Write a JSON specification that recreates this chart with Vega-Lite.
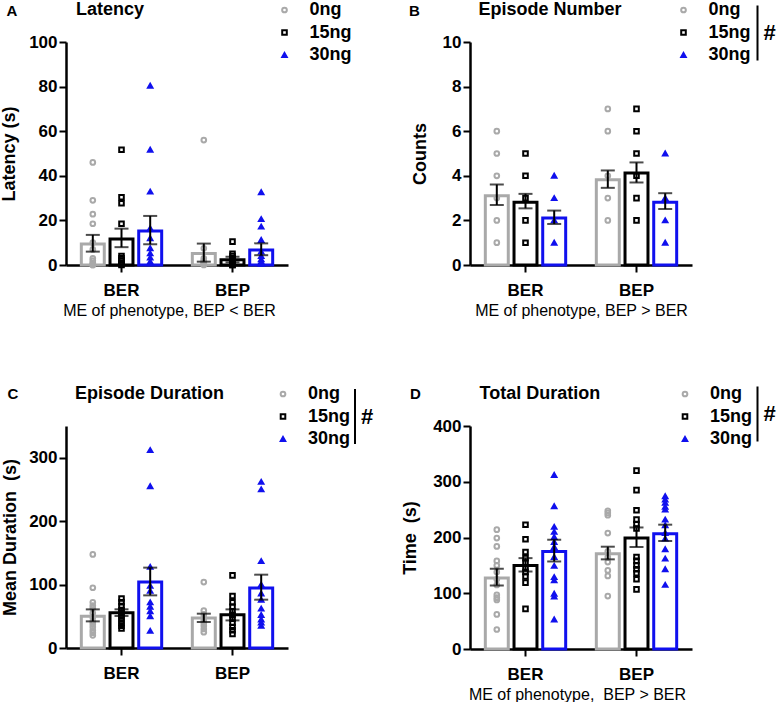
{
  "$schema": "https://vega.github.io/schema/vega-lite/v6.json",
  "background": "white",
  "padding": {"top": 1, "left": 0, "right": 0, "bottom": 0},
  "datasets": {
    "points": [
      {"panel":"A","phenotype":"BER","dose":"0ng","value":46},{"panel":"A","phenotype":"BER","dose":"0ng","value":29},{"panel":"A","phenotype":"BER","dose":"0ng","value":22.8},{"panel":"A","phenotype":"BER","dose":"0ng","value":18.5},{"panel":"A","phenotype":"BER","dose":"0ng","value":10},{"panel":"A","phenotype":"BER","dose":"0ng","value":7},{"panel":"A","phenotype":"BER","dose":"0ng","value":3},{"panel":"A","phenotype":"BER","dose":"0ng","value":2},{"panel":"A","phenotype":"BER","dose":"0ng","value":1},{"panel":"A","phenotype":"BER","dose":"0ng","value":0.5},{"panel":"A","phenotype":"BER","dose":"0ng","value":0},{"panel":"A","phenotype":"BER","dose":"0ng","value":0},
      {"panel":"A","phenotype":"BER","dose":"15ng","value":51.7},{"panel":"A","phenotype":"BER","dose":"15ng","value":30.4},{"panel":"A","phenotype":"BER","dose":"15ng","value":27.7},{"panel":"A","phenotype":"BER","dose":"15ng","value":18.5},{"panel":"A","phenotype":"BER","dose":"15ng","value":4},{"panel":"A","phenotype":"BER","dose":"15ng","value":3},{"panel":"A","phenotype":"BER","dose":"15ng","value":2},{"panel":"A","phenotype":"BER","dose":"15ng","value":1},{"panel":"A","phenotype":"BER","dose":"15ng","value":0.5},{"panel":"A","phenotype":"BER","dose":"15ng","value":0},
      {"panel":"A","phenotype":"BER","dose":"30ng","value":80.4},{"panel":"A","phenotype":"BER","dose":"30ng","value":51.7},{"panel":"A","phenotype":"BER","dose":"30ng","value":32.9},{"panel":"A","phenotype":"BER","dose":"30ng","value":16.4},{"panel":"A","phenotype":"BER","dose":"30ng","value":12},{"panel":"A","phenotype":"BER","dose":"30ng","value":7.5},{"panel":"A","phenotype":"BER","dose":"30ng","value":5.2},{"panel":"A","phenotype":"BER","dose":"30ng","value":3.3},{"panel":"A","phenotype":"BER","dose":"30ng","value":1.5},{"panel":"A","phenotype":"BER","dose":"30ng","value":0.7},
      {"panel":"A","phenotype":"BEP","dose":"0ng","value":56},{"panel":"A","phenotype":"BEP","dose":"0ng","value":7.5},{"panel":"A","phenotype":"BEP","dose":"0ng","value":3},{"panel":"A","phenotype":"BEP","dose":"0ng","value":2},{"panel":"A","phenotype":"BEP","dose":"0ng","value":1.5},{"panel":"A","phenotype":"BEP","dose":"0ng","value":1},{"panel":"A","phenotype":"BEP","dose":"0ng","value":0.5},{"panel":"A","phenotype":"BEP","dose":"0ng","value":0},
      {"panel":"A","phenotype":"BEP","dose":"15ng","value":10.5},{"panel":"A","phenotype":"BEP","dose":"15ng","value":5},{"panel":"A","phenotype":"BEP","dose":"15ng","value":4},{"panel":"A","phenotype":"BEP","dose":"15ng","value":3},{"panel":"A","phenotype":"BEP","dose":"15ng","value":2},{"panel":"A","phenotype":"BEP","dose":"15ng","value":1.5},{"panel":"A","phenotype":"BEP","dose":"15ng","value":1},{"panel":"A","phenotype":"BEP","dose":"15ng","value":0.5},{"panel":"A","phenotype":"BEP","dose":"15ng","value":0},{"panel":"A","phenotype":"BEP","dose":"15ng","value":0},
      {"panel":"A","phenotype":"BEP","dose":"30ng","value":32.6},{"panel":"A","phenotype":"BEP","dose":"30ng","value":20.6},{"panel":"A","phenotype":"BEP","dose":"30ng","value":17.2},{"panel":"A","phenotype":"BEP","dose":"30ng","value":11.2},{"panel":"A","phenotype":"BEP","dose":"30ng","value":6},{"panel":"A","phenotype":"BEP","dose":"30ng","value":4},{"panel":"A","phenotype":"BEP","dose":"30ng","value":2.5},{"panel":"A","phenotype":"BEP","dose":"30ng","value":1.5},{"panel":"A","phenotype":"BEP","dose":"30ng","value":0.8},{"panel":"A","phenotype":"BEP","dose":"30ng","value":0.5},
      {"panel":"B","phenotype":"BER","dose":"0ng","value":6},{"panel":"B","phenotype":"BER","dose":"0ng","value":5},{"panel":"B","phenotype":"BER","dose":"0ng","value":4},{"panel":"B","phenotype":"BER","dose":"0ng","value":3},{"panel":"B","phenotype":"BER","dose":"0ng","value":2},{"panel":"B","phenotype":"BER","dose":"0ng","value":1},
      {"panel":"B","phenotype":"BER","dose":"15ng","value":5},{"panel":"B","phenotype":"BER","dose":"15ng","value":4},{"panel":"B","phenotype":"BER","dose":"15ng","value":3},{"panel":"B","phenotype":"BER","dose":"15ng","value":2},{"panel":"B","phenotype":"BER","dose":"15ng","value":1},
      {"panel":"B","phenotype":"BER","dose":"30ng","value":4},{"panel":"B","phenotype":"BER","dose":"30ng","value":3},{"panel":"B","phenotype":"BER","dose":"30ng","value":2},{"panel":"B","phenotype":"BER","dose":"30ng","value":1},
      {"panel":"B","phenotype":"BEP","dose":"0ng","value":7},{"panel":"B","phenotype":"BEP","dose":"0ng","value":6},{"panel":"B","phenotype":"BEP","dose":"0ng","value":4},{"panel":"B","phenotype":"BEP","dose":"0ng","value":3},{"panel":"B","phenotype":"BEP","dose":"0ng","value":2},
      {"panel":"B","phenotype":"BEP","dose":"15ng","value":7},{"panel":"B","phenotype":"BEP","dose":"15ng","value":6},{"panel":"B","phenotype":"BEP","dose":"15ng","value":5},{"panel":"B","phenotype":"BEP","dose":"15ng","value":4},{"panel":"B","phenotype":"BEP","dose":"15ng","value":3},{"panel":"B","phenotype":"BEP","dose":"15ng","value":2},
      {"panel":"B","phenotype":"BEP","dose":"30ng","value":5},{"panel":"B","phenotype":"BEP","dose":"30ng","value":3},{"panel":"B","phenotype":"BEP","dose":"30ng","value":2},{"panel":"B","phenotype":"BEP","dose":"30ng","value":1},
      {"panel":"C","phenotype":"BER","dose":"0ng","value":147.6},{"panel":"C","phenotype":"BER","dose":"0ng","value":95},{"panel":"C","phenotype":"BER","dose":"0ng","value":72},{"panel":"C","phenotype":"BER","dose":"0ng","value":67},{"panel":"C","phenotype":"BER","dose":"0ng","value":63},{"panel":"C","phenotype":"BER","dose":"0ng","value":55},{"panel":"C","phenotype":"BER","dose":"0ng","value":48},{"panel":"C","phenotype":"BER","dose":"0ng","value":42},{"panel":"C","phenotype":"BER","dose":"0ng","value":38},{"panel":"C","phenotype":"BER","dose":"0ng","value":33},{"panel":"C","phenotype":"BER","dose":"0ng","value":28},{"panel":"C","phenotype":"BER","dose":"0ng","value":24},{"panel":"C","phenotype":"BER","dose":"0ng","value":20},
      {"panel":"C","phenotype":"BER","dose":"15ng","value":78},{"panel":"C","phenotype":"BER","dose":"15ng","value":72},{"panel":"C","phenotype":"BER","dose":"15ng","value":66},{"panel":"C","phenotype":"BER","dose":"15ng","value":60},{"panel":"C","phenotype":"BER","dose":"15ng","value":55},{"panel":"C","phenotype":"BER","dose":"15ng","value":50},{"panel":"C","phenotype":"BER","dose":"15ng","value":45},{"panel":"C","phenotype":"BER","dose":"15ng","value":40},{"panel":"C","phenotype":"BER","dose":"15ng","value":35},{"panel":"C","phenotype":"BER","dose":"15ng","value":31},
      {"panel":"C","phenotype":"BER","dose":"30ng","value":312},{"panel":"C","phenotype":"BER","dose":"30ng","value":255},{"panel":"C","phenotype":"BER","dose":"30ng","value":128},{"panel":"C","phenotype":"BER","dose":"30ng","value":98},{"panel":"C","phenotype":"BER","dose":"30ng","value":90},{"panel":"C","phenotype":"BER","dose":"30ng","value":72},{"panel":"C","phenotype":"BER","dose":"30ng","value":65},{"panel":"C","phenotype":"BER","dose":"30ng","value":58},{"panel":"C","phenotype":"BER","dose":"30ng","value":50},{"panel":"C","phenotype":"BER","dose":"30ng","value":27},
      {"panel":"C","phenotype":"BEP","dose":"0ng","value":104},{"panel":"C","phenotype":"BEP","dose":"0ng","value":59},{"panel":"C","phenotype":"BEP","dose":"0ng","value":53},{"panel":"C","phenotype":"BEP","dose":"0ng","value":48},{"panel":"C","phenotype":"BEP","dose":"0ng","value":44},{"panel":"C","phenotype":"BEP","dose":"0ng","value":40},{"panel":"C","phenotype":"BEP","dose":"0ng","value":35},{"panel":"C","phenotype":"BEP","dose":"0ng","value":30},{"panel":"C","phenotype":"BEP","dose":"0ng","value":25},
      {"panel":"C","phenotype":"BEP","dose":"15ng","value":114.5},{"panel":"C","phenotype":"BEP","dose":"15ng","value":82},{"panel":"C","phenotype":"BEP","dose":"15ng","value":72},{"panel":"C","phenotype":"BEP","dose":"15ng","value":65},{"panel":"C","phenotype":"BEP","dose":"15ng","value":58},{"panel":"C","phenotype":"BEP","dose":"15ng","value":52},{"panel":"C","phenotype":"BEP","dose":"15ng","value":46},{"panel":"C","phenotype":"BEP","dose":"15ng","value":40},{"panel":"C","phenotype":"BEP","dose":"15ng","value":33},{"panel":"C","phenotype":"BEP","dose":"15ng","value":28},{"panel":"C","phenotype":"BEP","dose":"15ng","value":22},
      {"panel":"C","phenotype":"BEP","dose":"30ng","value":262},{"panel":"C","phenotype":"BEP","dose":"30ng","value":250},{"panel":"C","phenotype":"BEP","dose":"30ng","value":137},{"panel":"C","phenotype":"BEP","dose":"30ng","value":100},{"panel":"C","phenotype":"BEP","dose":"30ng","value":86},{"panel":"C","phenotype":"BEP","dose":"30ng","value":76},{"panel":"C","phenotype":"BEP","dose":"30ng","value":62},{"panel":"C","phenotype":"BEP","dose":"30ng","value":52},{"panel":"C","phenotype":"BEP","dose":"30ng","value":45},{"panel":"C","phenotype":"BEP","dose":"30ng","value":40},{"panel":"C","phenotype":"BEP","dose":"30ng","value":35},
      {"panel":"D","phenotype":"BER","dose":"0ng","value":214},{"panel":"D","phenotype":"BER","dose":"0ng","value":199},{"panel":"D","phenotype":"BER","dose":"0ng","value":184},{"panel":"D","phenotype":"BER","dose":"0ng","value":158},{"panel":"D","phenotype":"BER","dose":"0ng","value":150},{"panel":"D","phenotype":"BER","dose":"0ng","value":138},{"panel":"D","phenotype":"BER","dose":"0ng","value":125},{"panel":"D","phenotype":"BER","dose":"0ng","value":115},{"panel":"D","phenotype":"BER","dose":"0ng","value":97},{"panel":"D","phenotype":"BER","dose":"0ng","value":92},{"panel":"D","phenotype":"BER","dose":"0ng","value":88},{"panel":"D","phenotype":"BER","dose":"0ng","value":62},{"panel":"D","phenotype":"BER","dose":"0ng","value":35},
      {"panel":"D","phenotype":"BER","dose":"15ng","value":223},{"panel":"D","phenotype":"BER","dose":"15ng","value":197},{"panel":"D","phenotype":"BER","dose":"15ng","value":174},{"panel":"D","phenotype":"BER","dose":"15ng","value":163},{"panel":"D","phenotype":"BER","dose":"15ng","value":155},{"panel":"D","phenotype":"BER","dose":"15ng","value":145},{"panel":"D","phenotype":"BER","dose":"15ng","value":138},{"panel":"D","phenotype":"BER","dose":"15ng","value":130},{"panel":"D","phenotype":"BER","dose":"15ng","value":119},{"panel":"D","phenotype":"BER","dose":"15ng","value":72},
      {"panel":"D","phenotype":"BER","dose":"30ng","value":312},{"panel":"D","phenotype":"BER","dose":"30ng","value":256},{"panel":"D","phenotype":"BER","dose":"30ng","value":219},{"panel":"D","phenotype":"BER","dose":"30ng","value":210},{"panel":"D","phenotype":"BER","dose":"30ng","value":201},{"panel":"D","phenotype":"BER","dose":"30ng","value":192},{"panel":"D","phenotype":"BER","dose":"30ng","value":183},{"panel":"D","phenotype":"BER","dose":"30ng","value":165},{"panel":"D","phenotype":"BER","dose":"30ng","value":149},{"panel":"D","phenotype":"BER","dose":"30ng","value":129},{"panel":"D","phenotype":"BER","dose":"30ng","value":123},{"panel":"D","phenotype":"BER","dose":"30ng","value":99},{"panel":"D","phenotype":"BER","dose":"30ng","value":94},{"panel":"D","phenotype":"BER","dose":"30ng","value":53},
      {"panel":"D","phenotype":"BEP","dose":"0ng","value":248},{"panel":"D","phenotype":"BEP","dose":"0ng","value":244},{"panel":"D","phenotype":"BEP","dose":"0ng","value":240},{"panel":"D","phenotype":"BEP","dose":"0ng","value":208},{"panel":"D","phenotype":"BEP","dose":"0ng","value":175},{"panel":"D","phenotype":"BEP","dose":"0ng","value":165},{"panel":"D","phenotype":"BEP","dose":"0ng","value":156},{"panel":"D","phenotype":"BEP","dose":"0ng","value":141},{"panel":"D","phenotype":"BEP","dose":"0ng","value":131},{"panel":"D","phenotype":"BEP","dose":"0ng","value":95},
      {"panel":"D","phenotype":"BEP","dose":"15ng","value":320},{"panel":"D","phenotype":"BEP","dose":"15ng","value":285},{"panel":"D","phenotype":"BEP","dose":"15ng","value":249},{"panel":"D","phenotype":"BEP","dose":"15ng","value":232},{"panel":"D","phenotype":"BEP","dose":"15ng","value":224},{"panel":"D","phenotype":"BEP","dose":"15ng","value":216},{"panel":"D","phenotype":"BEP","dose":"15ng","value":165},{"panel":"D","phenotype":"BEP","dose":"15ng","value":158},{"panel":"D","phenotype":"BEP","dose":"15ng","value":150},{"panel":"D","phenotype":"BEP","dose":"15ng","value":143},{"panel":"D","phenotype":"BEP","dose":"15ng","value":136},{"panel":"D","phenotype":"BEP","dose":"15ng","value":125},{"panel":"D","phenotype":"BEP","dose":"15ng","value":107},
      {"panel":"D","phenotype":"BEP","dose":"30ng","value":274},{"panel":"D","phenotype":"BEP","dose":"30ng","value":268},{"panel":"D","phenotype":"BEP","dose":"30ng","value":262},{"panel":"D","phenotype":"BEP","dose":"30ng","value":255},{"panel":"D","phenotype":"BEP","dose":"30ng","value":250},{"panel":"D","phenotype":"BEP","dose":"30ng","value":232},{"panel":"D","phenotype":"BEP","dose":"30ng","value":222},{"panel":"D","phenotype":"BEP","dose":"30ng","value":208},{"panel":"D","phenotype":"BEP","dose":"30ng","value":198},{"panel":"D","phenotype":"BEP","dose":"30ng","value":179},{"panel":"D","phenotype":"BEP","dose":"30ng","value":162},{"panel":"D","phenotype":"BEP","dose":"30ng","value":143},{"panel":"D","phenotype":"BEP","dose":"30ng","value":115}
    ],
    "summary": [
      {"panel":"A","phenotype":"BER","dose":"0ng","mean":9.4,"lo":6.0,"hi":13.5},
      {"panel":"A","phenotype":"BER","dose":"15ng","mean":11.7,"lo":8.0,"hi":16.3},
      {"panel":"A","phenotype":"BER","dose":"30ng","mean":15.3,"lo":9.3,"hi":22.0},
      {"panel":"A","phenotype":"BEP","dose":"0ng","mean":5.2,"lo":1.5,"hi":9.6},
      {"panel":"A","phenotype":"BEP","dose":"15ng","mean":2.4,"lo":1.2,"hi":3.7},
      {"panel":"A","phenotype":"BEP","dose":"30ng","mean":6.7,"lo":4.4,"hi":9.7},
      {"panel":"B","phenotype":"BER","dose":"0ng","mean":3.11,"lo":2.69,"hi":3.61,"sig":"#"},
      {"panel":"B","phenotype":"BER","dose":"15ng","mean":2.81,"lo":2.54,"hi":3.19,"sig":"#"},
      {"panel":"B","phenotype":"BER","dose":"30ng","mean":2.11,"lo":1.84,"hi":2.44,"sig":"#"},
      {"panel":"B","phenotype":"BEP","dose":"0ng","mean":3.82,"lo":3.46,"hi":4.24,"sig":"#"},
      {"panel":"B","phenotype":"BEP","dose":"15ng","mean":4.12,"lo":3.7,"hi":4.6,"sig":"#"},
      {"panel":"B","phenotype":"BEP","dose":"30ng","mean":2.81,"lo":2.51,"hi":3.22,"sig":"#"},
      {"panel":"C","phenotype":"BER","dose":"0ng","mean":49.9,"lo":42,"hi":60.9,"sig":"#"},
      {"panel":"C","phenotype":"BER","dose":"15ng","mean":55.7,"lo":50.5,"hi":61,"sig":"#"},
      {"panel":"C","phenotype":"BER","dose":"30ng","mean":104,"lo":83,"hi":126.7,"sig":"#"},
      {"panel":"C","phenotype":"BEP","dose":"0ng","mean":47.3,"lo":41,"hi":54.1,"sig":"#"},
      {"panel":"C","phenotype":"BEP","dose":"15ng","mean":52.5,"lo":43.5,"hi":60.9,"sig":"#"},
      {"panel":"C","phenotype":"BEP","dose":"30ng","mean":94.6,"lo":76.2,"hi":115.6,"sig":"#"},
      {"panel":"D","phenotype":"BER","dose":"0ng","mean":127.2,"lo":114,"hi":144,"sig":"#"},
      {"panel":"D","phenotype":"BER","dose":"15ng","mean":150,"lo":139,"hi":163,"sig":"#"},
      {"panel":"D","phenotype":"BER","dose":"30ng","mean":175,"lo":157,"hi":196,"sig":"#"},
      {"panel":"D","phenotype":"BEP","dose":"0ng","mean":171,"lo":160.8,"hi":183.5,"sig":"#"},
      {"panel":"D","phenotype":"BEP","dose":"15ng","mean":199,"lo":183,"hi":218,"sig":"#"},
      {"panel":"D","phenotype":"BEP","dose":"30ng","mean":206.8,"lo":193.7,"hi":223,"sig":"#"}
    ]
  },
  "columns": 2,
  "spacing": {"row": 161, "column": 182},
  "bounds": "flush",
  "resolve": {
    "scale": {"color": "independent", "shape": "independent", "stroke": "independent", "fill": "independent", "size": "independent", "strokeDash": "independent"},
    "legend": {"color": "independent", "shape": "independent", "stroke": "independent", "fill": "independent", "size": "independent", "strokeDash": "independent"}
  },
  "concat": [
    {
      "width": 222, "height": 223,
      "title": {"text": "Latency", "dx": 10},
      "resolve": {"axis": {"x": "independent"}},
      "encoding": {
        "x": {"field": "phenotype", "type": "nominal", "sort": ["BER","BEP"], "scale": {"paddingInner": 0, "paddingOuter": 0}, "axis": null},
        "xOffset": {"field": "dose", "type": "nominal", "sort": ["0ng","15ng","30ng"], "scale": {"paddingInner": 0.2, "paddingOuter": 0.534}}
      },
      "layer": [
        {"data": {"name": "summary"}, "transform": [{"filter": "datum.panel === 'A'"}],
         "mark": {"type": "bar", "filled": false, "strokeWidth": 3},
         "encoding": {
           "x": {"field": "phenotype", "type": "nominal", "sort": ["BER","BEP"], "scale": {"paddingInner": 0, "paddingOuter": 0}, "axis": {"title": "ME of phenotype, BEP < BER", "titleX": 103}},
           "y": {"field": "mean", "type": "quantitative", "scale": {"domain": [0, 100], "nice": false}, "axis": {"title": "Latency (s)", "values": [0,20,40,60,80,100], "titlePadding": 10}},
           "color": {"field": "dose", "type": "nominal", "scale": {"range": ["#a9a9a9","#000000","#1010ee"]}, "legend": null}
         }},
        {"data": {"name": "points"}, "transform": [{"filter": "datum.panel === 'A'"}],
         "mark": {"type": "point", "strokeWidth": 2, "opacity": 1},
         "encoding": {
           "y": {"field": "value", "type": "quantitative"},
           "shape": {"field": "dose", "type": "nominal", "scale": {"domain": ["0ng","15ng","30ng"], "range": ["circle","square","triangle-up"]}, "legend": {"orient": "none", "legendX": 209.5, "legendY": -41, "title": null, "padding": 0, "labelFontSize": 18, "labelOffset": 16, "rowPadding": 4.5, "symbolStrokeWidth": 2}},
           "stroke": {"field": "dose", "type": "nominal", "scale": {"domain": ["0ng","15ng","30ng"], "range": ["#a9a9a9","#000000","#1010ee"]}, "legend": {"orient": "none", "legendX": 209.5, "legendY": -41, "title": null, "padding": 0, "labelFontSize": 18, "labelOffset": 16, "rowPadding": 4.5, "symbolStrokeWidth": 2}},
           "fill": {"field": "dose", "type": "nominal", "scale": {"domain": ["0ng","15ng","30ng"], "range": ["transparent","transparent","#1010ee"]}, "legend": {"orient": "none", "legendX": 209.5, "legendY": -41, "title": null, "padding": 0, "labelFontSize": 18, "labelOffset": 16, "rowPadding": 4.5, "symbolStrokeWidth": 2}},
           "size": {"field": "dose", "type": "nominal", "scale": {"domain": ["0ng","15ng","30ng"], "range": [22, 20, 40]}, "legend": {"orient": "none", "legendX": 209.5, "legendY": -41, "title": null, "padding": 0, "labelFontSize": 18, "labelOffset": 16, "rowPadding": 4.5, "symbolStrokeWidth": 2}}
         }},
        {"data": {"name": "summary"}, "transform": [{"filter": "datum.panel === 'A'"}],
         "mark": {"type": "rule", "strokeWidth": 2, "color": "black"},
         "encoding": {"y": {"field": "lo", "type": "quantitative"}, "y2": {"field": "hi"}}},
        {"data": {"name": "summary"}, "transform": [{"filter": "datum.panel === 'A'"}],
         "mark": {"type": "tick", "orient": "horizontal", "size": 14, "thickness": 2, "color": "black"},
         "encoding": {"y": {"field": "lo", "type": "quantitative"}}},
        {"data": {"name": "summary"}, "transform": [{"filter": "datum.panel === 'A'"}],
         "mark": {"type": "tick", "orient": "horizontal", "size": 14, "thickness": 2, "color": "black"},
         "encoding": {
           "x": {"field": "phenotype", "type": "nominal", "sort": ["BER","BEP"], "scale": {"paddingInner": 0, "paddingOuter": 0}, "axis": {"orient": "top", "domain": false, "ticks": false, "labels": false, "grid": false, "title": "A", "titleX": -60, "titleY": -27, "titleAlign": "left", "titleAngle": 0, "titleBaseline": "alphabetic", "titleFontSize": 15, "titleFontWeight": "bold", "titleColor": "black"}},
           "y": {"field": "hi", "type": "quantitative"}}}
      ]
    },
    {
      "width": 222, "height": 223,
      "title": {"text": "Episode Number", "dx": 8.5},
      "resolve": {"axis": {"x": "independent"}},
      "encoding": {
        "x": {"field": "phenotype", "type": "nominal", "sort": ["BER","BEP"], "scale": {"paddingInner": 0, "paddingOuter": 0}, "axis": null},
        "xOffset": {"field": "dose", "type": "nominal", "sort": ["0ng","15ng","30ng"], "scale": {"paddingInner": 0.2, "paddingOuter": 0.534}}
      },
      "layer": [
        {"data": {"name": "summary"}, "transform": [{"filter": "datum.panel === 'B'"}],
         "mark": {"type": "bar", "filled": false, "strokeWidth": 3},
         "encoding": {
           "x": {"field": "phenotype", "type": "nominal", "sort": ["BER","BEP"], "scale": {"paddingInner": 0, "paddingOuter": 0}, "axis": {"title": "ME of phenotype, BEP > BER"}},
           "y": {"field": "mean", "type": "quantitative", "scale": {"domain": [0, 10], "nice": false}, "axis": {"title": "Counts", "values": [0,2,4,6,8,10], "titlePadding": 13}},
           "color": {"field": "dose", "type": "nominal", "scale": {"range": ["#a9a9a9","#000000","#1010ee"]}, "legend": null}
         }},
        {"data": {"name": "points"}, "transform": [{"filter": "datum.panel === 'B'"}],
         "mark": {"type": "point", "strokeWidth": 2, "opacity": 1},
         "encoding": {
           "y": {"field": "value", "type": "quantitative"},
           "shape": {"field": "dose", "type": "nominal", "scale": {"domain": ["0ng","15ng","30ng"], "range": ["circle","square","triangle-up"]}, "legend": {"orient": "none", "legendX": 204.5, "legendY": -41, "title": null, "padding": 0, "labelFontSize": 18, "labelOffset": 16, "rowPadding": 4.5, "symbolStrokeWidth": 2}},
           "stroke": {"field": "dose", "type": "nominal", "scale": {"domain": ["0ng","15ng","30ng"], "range": ["#a9a9a9","#000000","#1010ee"]}, "legend": {"orient": "none", "legendX": 204.5, "legendY": -41, "title": null, "padding": 0, "labelFontSize": 18, "labelOffset": 16, "rowPadding": 4.5, "symbolStrokeWidth": 2}},
           "fill": {"field": "dose", "type": "nominal", "scale": {"domain": ["0ng","15ng","30ng"], "range": ["transparent","transparent","#1010ee"]}, "legend": {"orient": "none", "legendX": 204.5, "legendY": -41, "title": null, "padding": 0, "labelFontSize": 18, "labelOffset": 16, "rowPadding": 4.5, "symbolStrokeWidth": 2}},
           "size": {"field": "dose", "type": "nominal", "scale": {"domain": ["0ng","15ng","30ng"], "range": [22, 20, 40]}, "legend": {"orient": "none", "legendX": 204.5, "legendY": -41, "title": null, "padding": 0, "labelFontSize": 18, "labelOffset": 16, "rowPadding": 4.5, "symbolStrokeWidth": 2}}
         }},
        {"data": {"name": "summary"}, "transform": [{"filter": "datum.panel === 'B'"}],
         "mark": {"type": "rule", "strokeWidth": 2, "color": "black"},
         "encoding": {"y": {"field": "lo", "type": "quantitative"}, "y2": {"field": "hi"},
           "strokeDash": {"field": "sig", "type": "nominal", "scale": {"range": [[1, 0]]}, "legend": {"orient": "none", "legendX": 276.5, "legendY": -20, "title": null, "padding": 0, "symbolType": "M0,-10L0,10", "symbolSize": 30, "symbolStrokeWidth": 2, "symbolStrokeColor": "black", "labelFontSize": 22, "labelOffset": -5}}}},
        {"data": {"name": "summary"}, "transform": [{"filter": "datum.panel === 'B'"}],
         "mark": {"type": "tick", "orient": "horizontal", "size": 14, "thickness": 2, "color": "black"},
         "encoding": {"y": {"field": "lo", "type": "quantitative"}}},
        {"data": {"name": "summary"}, "transform": [{"filter": "datum.panel === 'B'"}],
         "mark": {"type": "tick", "orient": "horizontal", "size": 14, "thickness": 2, "color": "black"},
         "encoding": {
           "x": {"field": "phenotype", "type": "nominal", "sort": ["BER","BEP"], "scale": {"paddingInner": 0, "paddingOuter": 0}, "axis": {"orient": "top", "domain": false, "ticks": false, "labels": false, "grid": false, "title": "B", "titleX": -61.5, "titleY": -27, "titleAlign": "left", "titleAngle": 0, "titleBaseline": "alphabetic", "titleFontSize": 15, "titleFontWeight": "bold", "titleColor": "black"}},
           "y": {"field": "hi", "type": "quantitative"}}}
      ]
    },
    {
      "width": 222, "height": 222,
      "title": {"text": "Episode Duration", "dx": 9},
      "resolve": {"axis": {"x": "independent"}},
      "encoding": {
        "x": {"field": "phenotype", "type": "nominal", "sort": ["BER","BEP"], "scale": {"paddingInner": 0, "paddingOuter": 0}, "axis": null},
        "xOffset": {"field": "dose", "type": "nominal", "sort": ["0ng","15ng","30ng"], "scale": {"paddingInner": 0.2, "paddingOuter": 0.534}}
      },
      "layer": [
        {"data": {"name": "summary"}, "transform": [{"filter": "datum.panel === 'C'"}],
         "mark": {"type": "bar", "filled": false, "strokeWidth": 3},
         "encoding": {
           "x": {"field": "phenotype", "type": "nominal", "sort": ["BER","BEP"], "scale": {"paddingInner": 0, "paddingOuter": 0}, "axis": {"title": null}},
           "y": {"field": "mean", "type": "quantitative", "scale": {"domain": [0, 350], "nice": false}, "axis": {"title": "Mean Duration\u00a0 (s)", "values": [0,100,200,300], "titlePadding": 9}},
           "color": {"field": "dose", "type": "nominal", "scale": {"range": ["#a9a9a9","#000000","#1010ee"]}, "legend": null}
         }},
        {"data": {"name": "points"}, "transform": [{"filter": "datum.panel === 'C'"}],
         "mark": {"type": "point", "strokeWidth": 2, "opacity": 1},
         "encoding": {
           "y": {"field": "value", "type": "quantitative"},
           "shape": {"field": "dose", "type": "nominal", "scale": {"domain": ["0ng","15ng","30ng"], "range": ["circle","square","triangle-up"]}, "legend": {"orient": "none", "legendX": 208, "legendY": -41, "title": null, "padding": 0, "labelFontSize": 18, "labelOffset": 16, "rowPadding": 4.5, "symbolStrokeWidth": 2}},
           "stroke": {"field": "dose", "type": "nominal", "scale": {"domain": ["0ng","15ng","30ng"], "range": ["#a9a9a9","#000000","#1010ee"]}, "legend": {"orient": "none", "legendX": 208, "legendY": -41, "title": null, "padding": 0, "labelFontSize": 18, "labelOffset": 16, "rowPadding": 4.5, "symbolStrokeWidth": 2}},
           "fill": {"field": "dose", "type": "nominal", "scale": {"domain": ["0ng","15ng","30ng"], "range": ["transparent","transparent","#1010ee"]}, "legend": {"orient": "none", "legendX": 208, "legendY": -41, "title": null, "padding": 0, "labelFontSize": 18, "labelOffset": 16, "rowPadding": 4.5, "symbolStrokeWidth": 2}},
           "size": {"field": "dose", "type": "nominal", "scale": {"domain": ["0ng","15ng","30ng"], "range": [22, 20, 40]}, "legend": {"orient": "none", "legendX": 208, "legendY": -41, "title": null, "padding": 0, "labelFontSize": 18, "labelOffset": 16, "rowPadding": 4.5, "symbolStrokeWidth": 2}}
         }},
        {"data": {"name": "summary"}, "transform": [{"filter": "datum.panel === 'C'"}],
         "mark": {"type": "rule", "strokeWidth": 2, "color": "black"},
         "encoding": {"y": {"field": "lo", "type": "quantitative"}, "y2": {"field": "hi"},
           "strokeDash": {"field": "sig", "type": "nominal", "scale": {"range": [[1, 0]]}, "legend": {"orient": "none", "legendX": 278, "legendY": -20.5, "title": null, "padding": 0, "symbolType": "M0,-10L0,10", "symbolSize": 30, "symbolStrokeWidth": 2, "symbolStrokeColor": "black", "labelFontSize": 22, "labelOffset": -5}}}},
        {"data": {"name": "summary"}, "transform": [{"filter": "datum.panel === 'C'"}],
         "mark": {"type": "tick", "orient": "horizontal", "size": 14, "thickness": 2, "color": "black"},
         "encoding": {"y": {"field": "lo", "type": "quantitative"}}},
        {"data": {"name": "summary"}, "transform": [{"filter": "datum.panel === 'C'"}],
         "mark": {"type": "tick", "orient": "horizontal", "size": 14, "thickness": 2, "color": "black"},
         "encoding": {
           "x": {"field": "phenotype", "type": "nominal", "sort": ["BER","BEP"], "scale": {"paddingInner": 0, "paddingOuter": 0}, "axis": {"orient": "top", "domain": false, "ticks": false, "labels": false, "grid": false, "title": "C", "titleX": -59, "titleY": -28, "titleAlign": "left", "titleAngle": 0, "titleBaseline": "alphabetic", "titleFontSize": 15, "titleFontWeight": "bold", "titleColor": "black"}},
           "y": {"field": "hi", "type": "quantitative"}}}
      ]
    },
    {
      "width": 222, "height": 223,
      "title": {"text": "Total Duration", "dx": 9.5},
      "resolve": {"axis": {"x": "independent"}},
      "encoding": {
        "x": {"field": "phenotype", "type": "nominal", "sort": ["BER","BEP"], "scale": {"paddingInner": 0, "paddingOuter": 0}, "axis": null},
        "xOffset": {"field": "dose", "type": "nominal", "sort": ["0ng","15ng","30ng"], "scale": {"paddingInner": 0.2, "paddingOuter": 0.534}}
      },
      "layer": [
        {"data": {"name": "summary"}, "transform": [{"filter": "datum.panel === 'D'"}],
         "mark": {"type": "bar", "filled": false, "strokeWidth": 3},
         "encoding": {
           "x": {"field": "phenotype", "type": "nominal", "sort": ["BER","BEP"], "scale": {"paddingInner": 0, "paddingOuter": 0}, "axis": {"title": "ME of phenotype,\u00a0 BEP > BER", "titleX": 107}},
           "y": {"field": "mean", "type": "quantitative", "scale": {"domain": [0, 400], "nice": false}, "axis": {"title": "Time\u00a0 (s)", "values": [0,100,200,300,400], "titlePadding": 13}},
           "color": {"field": "dose", "type": "nominal", "scale": {"range": ["#a9a9a9","#000000","#1010ee"]}, "legend": null}
         }},
        {"data": {"name": "points"}, "transform": [{"filter": "datum.panel === 'D'"}],
         "mark": {"type": "point", "strokeWidth": 2, "opacity": 1},
         "encoding": {
           "y": {"field": "value", "type": "quantitative"},
           "shape": {"field": "dose", "type": "nominal", "scale": {"domain": ["0ng","15ng","30ng"], "range": ["circle","square","triangle-up"]}, "legend": {"orient": "none", "legendX": 206, "legendY": -41, "title": null, "padding": 0, "labelFontSize": 18, "labelOffset": 16, "rowPadding": 4.5, "symbolStrokeWidth": 2}},
           "stroke": {"field": "dose", "type": "nominal", "scale": {"domain": ["0ng","15ng","30ng"], "range": ["#a9a9a9","#000000","#1010ee"]}, "legend": {"orient": "none", "legendX": 206, "legendY": -41, "title": null, "padding": 0, "labelFontSize": 18, "labelOffset": 16, "rowPadding": 4.5, "symbolStrokeWidth": 2}},
           "fill": {"field": "dose", "type": "nominal", "scale": {"domain": ["0ng","15ng","30ng"], "range": ["transparent","transparent","#1010ee"]}, "legend": {"orient": "none", "legendX": 206, "legendY": -41, "title": null, "padding": 0, "labelFontSize": 18, "labelOffset": 16, "rowPadding": 4.5, "symbolStrokeWidth": 2}},
           "size": {"field": "dose", "type": "nominal", "scale": {"domain": ["0ng","15ng","30ng"], "range": [22, 20, 40]}, "legend": {"orient": "none", "legendX": 206, "legendY": -41, "title": null, "padding": 0, "labelFontSize": 18, "labelOffset": 16, "rowPadding": 4.5, "symbolStrokeWidth": 2}}
         }},
        {"data": {"name": "summary"}, "transform": [{"filter": "datum.panel === 'D'"}],
         "mark": {"type": "rule", "strokeWidth": 2, "color": "black"},
         "encoding": {"y": {"field": "lo", "type": "quantitative"}, "y2": {"field": "hi"},
           "strokeDash": {"field": "sig", "type": "nominal", "scale": {"range": [[1, 0]]}, "legend": {"orient": "none", "legendX": 276.5, "legendY": -23, "title": null, "padding": 0, "symbolType": "M0,-10L0,10", "symbolSize": 30, "symbolStrokeWidth": 2, "symbolStrokeColor": "black", "labelFontSize": 22, "labelOffset": -5}}}},
        {"data": {"name": "summary"}, "transform": [{"filter": "datum.panel === 'D'"}],
         "mark": {"type": "tick", "orient": "horizontal", "size": 14, "thickness": 2, "color": "black"},
         "encoding": {"y": {"field": "lo", "type": "quantitative"}}},
        {"data": {"name": "summary"}, "transform": [{"filter": "datum.panel === 'D'"}],
         "mark": {"type": "tick", "orient": "horizontal", "size": 14, "thickness": 2, "color": "black"},
         "encoding": {
           "x": {"field": "phenotype", "type": "nominal", "sort": ["BER","BEP"], "scale": {"paddingInner": 0, "paddingOuter": 0}, "axis": {"orient": "top", "domain": false, "ticks": false, "labels": false, "grid": false, "title": "D", "titleX": -60.5, "titleY": -28, "titleAlign": "left", "titleAngle": 0, "titleBaseline": "alphabetic", "titleFontSize": 15, "titleFontWeight": "bold", "titleColor": "black"}},
           "y": {"field": "hi", "type": "quantitative"}}}
      ]
    }
  ],
  "config": {
    "view": {"stroke": null},
    "font": "Liberation Sans",
    "axis": {"domainColor": "black", "domainWidth": 2.5, "tickColor": "black", "tickWidth": 2, "tickSize": 7, "labelFont": "Liberation Sans", "labelFontSize": 17, "labelFontWeight": "bold", "labelColor": "black", "titleFont": "Liberation Sans", "titleFontSize": 18, "titleFontWeight": "bold", "titleColor": "black", "grid": false},
    "axisX": {"labelPadding": 10, "labelAngle": 0, "titleFontSize": 16, "titleFontWeight": "normal", "titlePadding": 4},
    "axisY": {"labelPadding": 2},
    "legend": {"labelFont": "Liberation Sans", "labelColor": "black", "labelFontWeight": "bold"},
    "title": {"anchor": "start", "frame": "group", "font": "Liberation Sans", "fontSize": 18, "fontWeight": "bold", "color": "black", "offset": -18}
  }
}
